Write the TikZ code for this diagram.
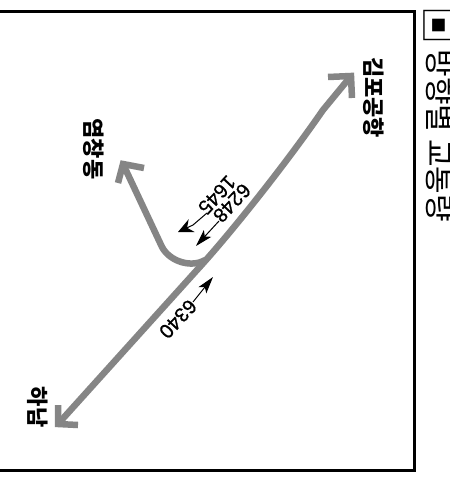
\documentclass[tikz,border=0pt]{standalone}
\usepackage{fontspec}
\setmainfont{Liberation Sans}
\newfontfamily\krfont{Noto Sans CJK KR}
\newfontfamily\numfont[FakeBold=0.8]{Liberation Sans}
\usetikzlibrary{arrows.meta}
\tikzset{
  road/.style={draw=black!48,line width=6.5pt,line cap=butt,line join=miter},
  flow/.style={draw=black,line width=1pt,-{Stealth[length=17pt,width=10pt,inset=4pt]}},
  turnflow/.style={draw=black,line width=1pt,-{Stealth[length=15pt,width=14pt,inset=5pt]}},
  place/.style={font=\krfont\bfseries\fontsize{22}{22}\selectfont,rotate=-90,inner sep=0pt},
  count/.style={font=\numfont\fontsize{20}{20}\selectfont,rotate=227,inner sep=0pt},
  title/.style={font=\krfont\fontsize{30}{30}\selectfont,rotate=-90,anchor=west,inner sep=0pt},
}
\begin{document}
\begin{tikzpicture}[x=1pt,y=-1pt]
\useasboundingbox (0,0) rectangle (450,477);
\fill[white] (0,0) rectangle (450,477);
\draw[line width=3pt] (-6,11) rectangle (414,470);
\coordinate (s) at (58,424);
\coordinate (e) at (351,76);
\coordinate (j) at (205,260);
\coordinate (t) at (123,164);
\draw[road] (s) -- (197,270) .. controls (230,234) and (285,165) .. (323,110) -- (e);
\draw[road] (58,405) -- (s) -- (78,425);
\draw[road] (328,77) -- (e) -- (352,98);
\draw[road] (j) .. controls (192,268) and (170,262) .. (162,247) -- (t);
\draw[road] (144,168) -- (t) -- (118,183);
\node[place] (gimpo) at (374,97.5) {김포공항};
\node[place] (yeom) at (93.5,149) {염창동};
\node[place] (hanam) at (38,407) {하남};
\node[count] (n6340) at (178,319) {6340};
\node[count] (n6248) at (232,203) {6248};
\node[count] (n1645) at (217,195) {1645};
\coordinate (a1) at (193,302);
\coordinate (a2) at (213,277);
\coordinate (b1) at (219,221);
\coordinate (b2) at (196,246);
\coordinate (c1) at (207,213);
\coordinate (c2) at (178,232);
\draw[flow] (a1) -- (a2);
\draw[flow] (b1) -- (b2);
\draw[turnflow] (c1) -- (193,225) -- (c2);
\node[font=\krfont\fontsize{38}{38}\selectfont,rotate=-90,inner sep=0pt] (mark) at (438.5,25) {▣};
\node[title] (head) at (440,49.5) {방향별 교통량};
\end{tikzpicture}
\end{document}
